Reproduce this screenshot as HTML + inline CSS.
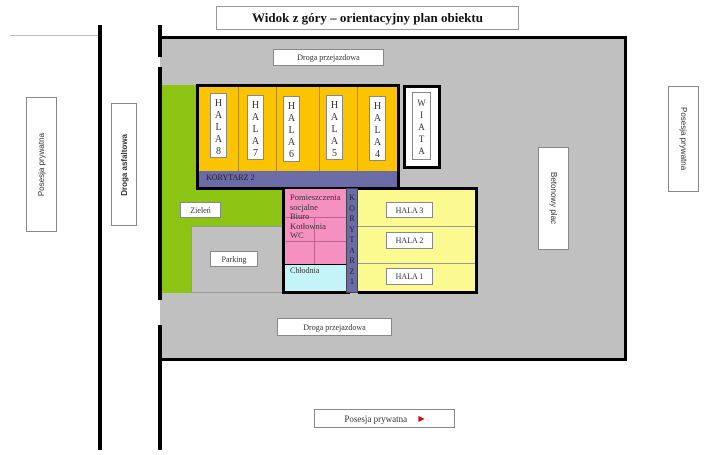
<!DOCTYPE html>
<html><head><meta charset="utf-8"><style>
body{margin:0;width:710px;height:455px;background:#fff;position:relative;overflow:hidden;font-family:"Liberation Serif",serif;}
div{position:absolute;box-sizing:border-box;}
.lbl{background:#fff;border:1px solid #888;font-size:9px;color:#333;display:flex;align-items:center;justify-content:center;white-space:nowrap;}
.v{writing-mode:vertical-rl;}
.up{transform:rotate(180deg);}
.hala{background:#fff;border:1px solid #888;font-size:10px;color:#333;text-align:center;line-height:12px;padding-top:4px;}
.blk{background:#000;}
</style></head><body>
<div class="lbl" style="left:216px;top:6px;width:303px;height:24px;font-size:13px;font-weight:bold;color:#111;border-color:#999">Widok z góry – orientacyjny plan obiektu</div>
<div style="left:10px;top:35px;width:90px;height:1px;background:#bbb"></div>
<div class="blk" style="left:98px;top:25px;width:4px;height:425px"></div>
<div style="left:160px;top:36px;width:467px;height:325px;background:#c0c0c0;border-top:3px solid #000;border-right:3px solid #000;border-bottom:3px solid #000"></div>
<div class="blk" style="left:158px;top:25px;width:4px;height:32px"></div>
<div class="blk" style="left:158px;top:67px;width:4px;height:233px"></div>
<div class="blk" style="left:158px;top:325px;width:4px;height:125px"></div>
<div class="lbl" style="left:273px;top:49px;width:111px;height:17px;font-size:8px">Droga przejazdowa</div>
<div class="lbl" style="left:277px;top:318px;width:115px;height:18px;font-size:8px">Droga przejazdowa</div>
<div class="lbl" style="left:314px;top:409px;width:141px;height:19px;font-size:9px">Posesja prywatna&nbsp;&nbsp;&nbsp;&nbsp;&nbsp;<span style="color:#d00;font-size:8px">▶</span></div>
<div class="lbl" style="left:26px;top:97px;width:31px;height:135px;font-family:'Liberation Sans',sans-serif;font-size:8px"><span class="v up">Posesja prywatna</span></div>
<div class="lbl" style="left:111px;top:103px;width:26px;height:123px;font-family:'Liberation Sans',sans-serif;font-size:8px;font-weight:bold"><span class="v up">Droga asfaltowa</span></div>
<div class="lbl" style="left:538px;top:147px;width:31px;height:103px;font-family:'Liberation Sans',sans-serif;font-size:8px"><span class="v">Betonowy plac</span></div>
<div class="lbl" style="left:668px;top:86px;width:31px;height:106px;font-family:'Liberation Sans',sans-serif;font-size:8px"><span class="v">Posesja prywatna</span></div>
<!-- green -->
<div style="left:162px;top:85px;width:36px;height:208px;background:#8cc414"></div>
<div style="left:190px;top:188px;width:93px;height:38px;background:#8cc414"></div>
<div class="lbl" style="left:180px;top:202px;width:41px;height:16px;font-size:8px">Zieleń</div>
<div style="left:191px;top:226px;width:92px;height:67px;background:#c0c0c0;border:1px solid #999"></div>
<div class="lbl" style="left:210px;top:251px;width:48px;height:16px;font-size:8px">Parking</div>
<!-- main building -->
<div style="left:196px;top:84px;width:204px;height:106px;background:#fbc300;border:3px solid #000"></div>
<div style="left:199px;top:171px;width:198px;height:16px;background:#6b6ba8;font-size:8px;color:#222;padding:2px 0 0 7px">KORYTARZ 2</div>
<div style="left:238px;top:87px;width:1px;height:84px;background:#b08a00"></div>
<div style="left:276px;top:87px;width:1px;height:84px;background:#b08a00"></div>
<div style="left:319px;top:87px;width:1px;height:84px;background:#b08a00"></div>
<div style="left:357px;top:87px;width:1px;height:84px;background:#b08a00"></div>
<div class="hala" style="left:210px;top:93px;width:17px;height:65px">H<br>A<br>L<br>A<br>8</div>
<div class="hala" style="left:247px;top:95px;width:17px;height:65px">H<br>A<br>L<br>A<br>7</div>
<div class="hala" style="left:283px;top:96px;width:17px;height:66px">H<br>A<br>L<br>A<br>6</div>
<div class="hala" style="left:326px;top:95px;width:17px;height:65px">H<br>A<br>L<br>A<br>5</div>
<div class="hala" style="left:369px;top:96px;width:17px;height:65px">H<br>A<br>L<br>A<br>4</div>
<div style="left:403px;top:85px;width:38px;height:84px;background:#fff;border:3px solid #000"></div>
<div class="hala" style="left:412px;top:92px;width:19px;height:68px;font-size:9px">W<br>I<br>A<br>T<br>A</div>
<!-- pink -->
<div style="left:282px;top:187px;width:68px;height:107px;background:#000"></div>
<div style="left:285px;top:189px;width:62px;height:75px;background:#f590c0"></div>
<div style="left:285px;top:217px;width:62px;height:1px;background:#c06090"></div>
<div style="left:285px;top:241px;width:62px;height:1px;background:#c06090"></div>
<div style="left:314px;top:217px;width:1px;height:47px;background:#c06090"></div>
<div style="left:285px;top:265px;width:62px;height:26px;background:#c4f4f8"></div>
<div style="left:285px;top:189px;font-size:8.5px;color:#333;line-height:9.5px;padding:4px 0 0 5px;width:62px">Pomieszczenia socjalne<br>Biuro<br>Kotłownia<br>WC</div>
<div style="left:290px;top:266px;font-size:8px;color:#333">Chłodnia</div>
<div style="left:346px;top:188px;width:12px;height:105px;background:#6b6ba8;border:1px solid #445;font-size:8px;color:#222;text-align:center;line-height:10.5px;padding-top:4px">K<br>O<br>R<br>Y<br>T<br>A<br>R<br>Z<br>1</div>
<!-- yellow light -->
<div style="left:358px;top:187px;width:120px;height:107px;background:#fafa90;border:3px solid #000;border-left:none"></div>
<div style="left:358px;top:226px;width:117px;height:1px;background:#999"></div>
<div style="left:358px;top:263px;width:117px;height:1px;background:#999"></div>
<div class="lbl" style="left:386px;top:202px;width:47px;height:16px;font-size:8px">HALA 3</div>
<div class="lbl" style="left:386px;top:232px;width:47px;height:17px;font-size:8px">HALA 2</div>
<div class="lbl" style="left:386px;top:268px;width:47px;height:17px;font-size:8px">HALA 1</div>
</body></html>
